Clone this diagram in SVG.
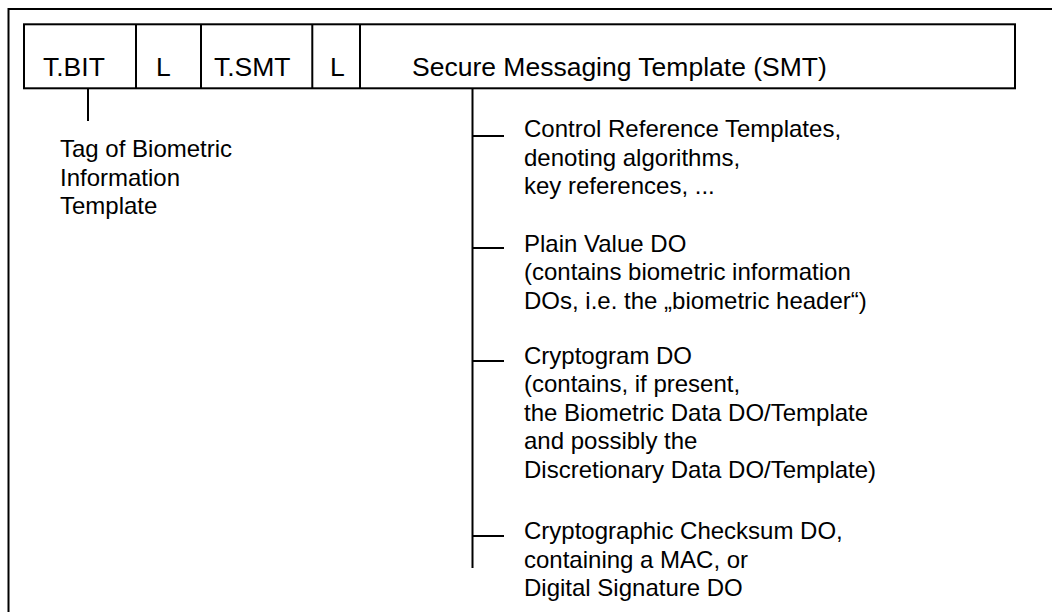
<svg xmlns="http://www.w3.org/2000/svg" width="1052" height="612" viewBox="0 0 1052 612">
<style>
.ln{fill:none;stroke:#000;stroke-width:2}
.hd{font-family:"Liberation Sans",Arial,sans-serif;font-size:26.5px;fill:#000}
.tx{font-family:"Liberation Sans",Arial,sans-serif;font-size:24px;fill:#000}
</style>
<rect width="1052" height="612" fill="#fff"/>
<path id="frame" class="ln" d="M8.5,612 V9 H1052"/>
<g id="header">
<rect class="ln" x="24" y="24.3" width="991" height="64"/>
<path class="ln" d="M136,24.3 V88.3 M201,24.3 V88.3 M312.3,24.3 V88.3 M360,24.3 V88.3"/>
<text class="hd" x="43" y="75.5">T.BIT</text>
<text class="hd" x="156" y="75.5">L</text>
<text class="hd" x="214" y="75.5">T.SMT</text>
<text class="hd" x="330" y="75.5">L</text>
<text class="hd" x="412" y="75.5">Secure Messaging Template (SMT)</text>
</g>
<g id="connectors">
<path class="ln" d="M88,88.3 V121"/>
<path class="ln" d="M472.5,88.3 V568 M472.5,136 H504 M472.5,248 H504 M472.5,361 H504 M472.5,536 H504"/>
</g>
<g id="tag-label">
<text class="tx" x="60" y="157">Tag of Biometric</text>
<text class="tx" x="60" y="185.5">Information</text>
<text class="tx" x="60" y="213.5">Template</text>
</g>
<g id="crt">
<text class="tx" x="524" y="137">Control Reference Templates,</text>
<text class="tx" x="524" y="165.5">denoting algorithms,</text>
<text class="tx" x="524" y="194">key references, ...</text>
</g>
<g id="plain">
<text class="tx" x="524" y="251.5">Plain Value DO</text>
<text class="tx" x="524" y="280">(contains biometric information</text>
<text class="tx" x="524" y="308.5">DOs, i.e. the „biometric header“)</text>
</g>
<g id="crypto">
<text class="tx" x="524" y="363.5">Cryptogram DO</text>
<text class="tx" x="524" y="392">(contains, if present,</text>
<text class="tx" x="524" y="420.5">the Biometric Data DO/Template</text>
<text class="tx" x="524" y="449">and possibly the</text>
<text class="tx" x="524" y="477.5">Discretionary Data DO/Template)</text>
</g>
<g id="checksum">
<text class="tx" x="524" y="539">Cryptographic Checksum DO,</text>
<text class="tx" x="524" y="567.5">containing a MAC, or</text>
<text class="tx" x="524" y="596">Digital Signature DO</text>
</g>
</svg>
